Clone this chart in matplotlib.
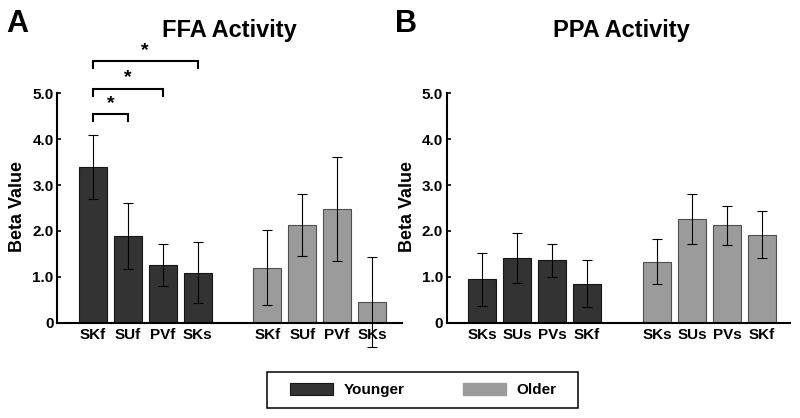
import matplotlib
matplotlib.use("Agg")
import matplotlib.pyplot as plt
from matplotlib.patches import Rectangle, Patch

plt.rcParams['font.family'] = ['Liberation Sans', 'DejaVu Sans']
plt.rcParams['font.weight'] = 'bold'

# ---- data ----
ffa_labels = ["SKf", "SUf", "PVf", "SKs"]
ppa_labels = ["SKs", "SUs", "PVs", "SKf"]

ffa_young = [3.39, 1.89, 1.26, 1.09]
ffa_young_err = [0.70, 0.71, 0.45, 0.66]
ffa_old = [1.20, 2.13, 2.48, 0.45]
ffa_old_err = [0.82, 0.67, 1.14, 0.98]

ppa_young = [0.95, 1.41, 1.36, 0.85]
ppa_young_err = [0.58, 0.55, 0.36, 0.51]
ppa_old = [1.33, 2.26, 2.12, 1.92]
ppa_old_err = [0.49, 0.55, 0.42, 0.51]

yticks = [0, 1, 2, 3, 4, 5]
ytick_labels = ["0", "1.0", "2.0", "3.0", "4.0", "5.0"]

# significance brackets (from bar index 0 to bar index j)
sig_pairs = [(0, 1), (0, 2), (0, 3)]
sig_levels = [4.55, 5.10, 5.70]

dark = "#333333"
dark_edge = "#151515"
light = "#9b9b9b"
light_edge = "#505050"

W, H = 800, 418
fig = plt.figure(figsize=(8.0, 4.18), dpi=100)

def fx(px):
    return px / W

def fy(py):
    return 1 - py / H

axA = fig.add_axes([fx(57), fy(322.7), fx(401.7) - fx(57), fy(93.3) - fy(322.7)])
axB = fig.add_axes([fx(446.7), fy(322.7), fx(790) - fx(446.7), fy(93.3) - fy(322.7)])

young_pos = [0, 1, 2, 3]
old_pos = [5, 6, 7, 8]

def draw(ax, labels, yv, ye, ov, oe, xlim):
    ax.bar(young_pos, yv, width=0.8, color=dark, edgecolor=dark_edge, linewidth=0.8, zorder=2)
    ax.bar(old_pos, ov, width=0.8, color=light, edgecolor=light_edge, linewidth=0.8, zorder=2)
    for pos, v, e in ((young_pos, yv, ye), (old_pos, ov, oe)):
        c = ax.errorbar(pos, v, yerr=e, fmt='none', ecolor='black', elinewidth=0.8,
                        capsize=3.5, capthick=0.8, zorder=4)
        for ch in c.get_children():
            ch.set_clip_on(False)
    ax.set_xlim(*xlim)
    ax.set_ylim(0, 5)
    ax.set_xticks(young_pos + old_pos)
    ax.set_xticklabels(labels + labels)
    ax.set_yticks(yticks)
    ax.set_yticklabels(ytick_labels)
    for s in ("top", "right"):
        ax.spines[s].set_visible(False)
    for s in ("left", "bottom"):
        ax.spines[s].set_linewidth(1.5)
    ax.tick_params(axis='y', direction='in', length=3, width=1.2, pad=2.5, labelsize=11)
    ax.tick_params(axis='x', length=0, pad=4, labelsize=11)
    for t in ax.get_xticklabels() + ax.get_yticklabels():
        t.set_fontweight('bold')

draw(axA, ffa_labels, ffa_young, ffa_young_err, ffa_old, ffa_old_err, (-1.03, 8.85))
draw(axB, ppa_labels, ppa_young, ppa_young_err, ppa_old, ppa_old_err, (-1.01, 8.80))

# significance brackets
for (i, j), lev in zip(sig_pairs, sig_levels):
    xi, xj = young_pos[i], young_pos[j]
    axA.plot([xi, xi, xj, xj], [lev - 0.15, lev, lev, lev - 0.15], color='black',
             lw=1.5, clip_on=False, solid_joinstyle='miter')
    axA.text((xi + xj) / 2, lev + 0.05, "*", ha='center', va='bottom', fontsize=14,
             fontweight='bold', clip_on=False)

# titles and panel letters
fig.text(fx(229), fy(37), "FFA Activity", ha='center', va='baseline', fontsize=17, fontweight='bold')
fig.text(fx(621), fy(37), "PPA Activity", ha='center', va='baseline', fontsize=17, fontweight='bold')
fig.text(fx(6), fy(32), "A", ha='left', va='baseline', fontsize=22, fontweight='bold')
fig.text(fx(395), fy(32), "B", ha='left', va='baseline', fontsize=22, fontweight='bold')

# y labels
fig.text(fx(18), fy(206), "Beta Value", rotation=90, ha='center', va='center', fontsize=13, fontweight='bold')
fig.text(fx(408), fy(206), "Beta Value", rotation=90, ha='center', va='center', fontsize=13, fontweight='bold')

# legend
handles = [Patch(facecolor=dark, edgecolor=dark_edge, linewidth=0.8),
           Patch(facecolor=light, edgecolor=light), ]
fig.legend(handles, ["Younger", "Older"], loc='center', bbox_to_anchor=(fx(423.2), fy(390)),
           ncol=2, frameon=False, handlelength=2.8, handleheight=0.9, handletextpad=0.7,
           columnspacing=3.85, borderpad=0, prop={'weight': 'bold', 'size': 11})
fig.patches.append(Rectangle((fx(266.7), fy(408.3)), fx(578.3) - fx(266.7), fy(371.7) - fy(408.3),
                             transform=fig.transFigure, fill=False, edgecolor='black', lw=1.1))

fig.savefig("out.png", dpi=100)
